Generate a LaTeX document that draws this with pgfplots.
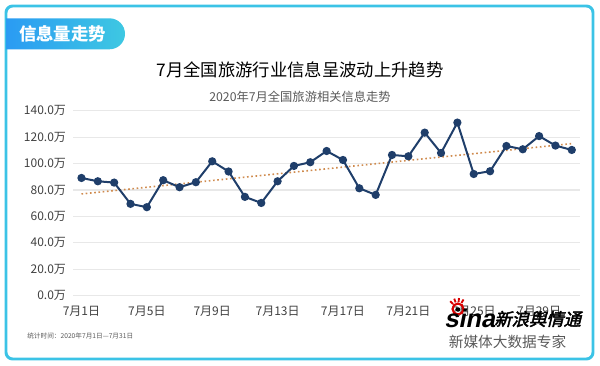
\documentclass[border=0pt]{standalone}
\usepackage{fontspec}
\setmainfont{Noto Sans CJK SC}
\newfontfamily\sinacjk{Noto Sans CJK SC}[FakeBold=2.5,FakeSlant=0.25]
\newfontfamily\sinalat{Liberation Sans}[FakeSlant=0.2]
\usepackage{pgfplots}
\pgfplotsset{compat=1.18}
\definecolor{frameC}{HTML}{3BC3E6}
\definecolor{tabL}{HTML}{2A9BF3}
\definecolor{tabR}{HTML}{3EC8E2}
\definecolor{lineC}{HTML}{1F3E6A}
\definecolor{trendC}{HTML}{CF8B4E}
\definecolor{gridC}{HTML}{E8E8E8}
\definecolor{txtC}{HTML}{404040}
\definecolor{subC}{HTML}{595959}
\begin{document}
\begin{tikzpicture}[x=0.75pt,y=0.75pt]
\useasboundingbox (0,0) rectangle (600,365);
% frame
\draw[frameC,line width=2.2pt,rounded corners=5pt] (6,359) rectangle (593,6);
% tab
\shade[left color=tabL,right color=tabR] (6,346.7) -- (109.5,346.7) arc[start angle=90,end angle=-90,radius=15.5] -- (6,315.7) -- cycle;
\node[white,font=\fontsize{13}{15}\selectfont\bfseries] at (62.5,331) {信息量走势};
% titles
\node[black,font=\fontsize{13}{15}\selectfont] at (300,295) {7月全国旅游行业信息呈波动上升趋势};
\node[subC,font=\fontsize{9.2}{11}\selectfont] at (300,268) {2020年7月全国旅游相关信息走势};
\begin{axis}[
  at={(54.975pt,51.975pt)}, anchor=south west,
  scale only axis, width=380pt, height=138.75pt,
  xmin=0.5, xmax=31.5, ymin=0, ymax=140,
  axis line style={draw=none},
  major tick length=0pt,
  ymajorgrids, grid style={gridC,line width=0.9pt},
  xtick={1,5,9,13,17,21,25,29},
  xticklabels={7月1日,7月5日,7月9日,7月13日,7月17日,7月21日,7月25日,7月29日},
  ytick={0,20,40,60,80,100,120,140},
  yticklabels={0.0万,20.0万,40.0万,60.0万,80.0万,100.0万,120.0万,140.0万},
  tick label style={txtC,font=\fontsize{9}{11}\selectfont},
  xticklabel style={yshift=-4pt},
  yticklabel style={xshift=-2pt},
  clip=false,
]
\addplot[trendC,line width=1.2pt,dotted] coordinates {(1,77) (31,115.1)};
\addplot[lineC,line width=1.5pt,mark=*,mark size=2.3pt,mark options={fill=lineC,draw=lineC}] coordinates {
(1,89.1) (2,86.6) (3,85.6) (4,69.5) (5,67.0) (6,87.4) (7,82.1) (8,85.9)
(9,101.7) (10,94.0) (11,74.8) (12,70.2) (13,86.6) (14,98.2) (15,101.0)
(16,109.5) (17,102.7) (18,81.3) (19,76.3) (20,106.5) (21,105.5) (22,123.4)
(23,108.0) (24,131.0) (25,92.1) (26,94.2) (27,113.3) (28,110.8) (29,120.8)
(30,113.6) (31,110.3)};
\end{axis}
% footnote
\node[anchor=west,subC,font=\fontsize{5}{6}\selectfont,inner sep=0pt] at (27,29) {统计时间：2020年7月1日—7月31日};
% sina logo
\draw[red!85!black,line width=1.6pt] (458,56) circle[radius=5.5];
\fill[black] (458,55.5) circle[radius=2.3];
\foreach \a in {60,85,110,135} \draw[red!85!black,line width=1.4pt] (458,56)++(\a:7) -- ++(\a:4);
\node[anchor=west,inner sep=0pt,font=\sinalat\fontsize{19}{20}\selectfont\bfseries] at (444,47) {sina};
\node[anchor=west,inner sep=0pt,font=\sinacjk\fontsize{13}{14}\selectfont] at (494,46) {新浪舆情通};
\node[anchor=center,subC,font=\fontsize{11}{13}\selectfont] at (507.5,23) {新媒体大数据专家};
\end{tikzpicture}
\end{document}
